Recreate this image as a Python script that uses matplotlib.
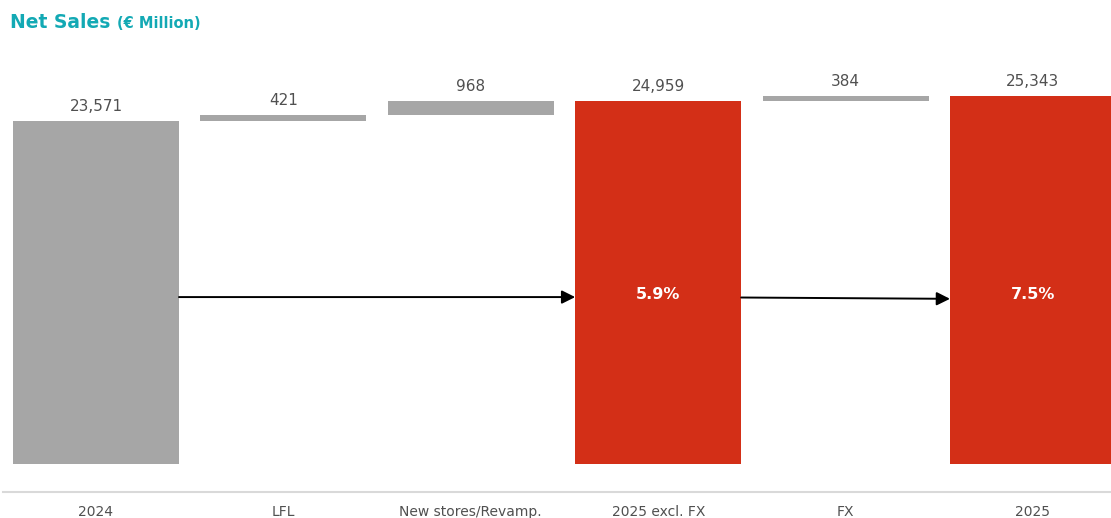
import matplotlib
matplotlib.use("Agg")
import matplotlib.pyplot as plt
import numpy as np

categories = ["2024", "LFL", "New stores/Revamp.", "2025 excl. FX", "FX", "2025"]
values = [23571, 421, 968, 24959, 384, 25343]
kinds = ["total", "delta", "delta", "total", "delta", "total"]
value_labels = ["23,571", "421", "968", "24,959", "384", "25,343"]
growth_labels = ["5.9%", "7.5%"]

GRAY = "#A6A6A6"
RED = "#D32F17"
TEAL = "#13A9B4"
TXT = "#505050"

plt.rcParams['font.family'] = ['DejaVu Sans']

fig = plt.figure(figsize=(11.11, 5.18), dpi=100)
W, H = 1111, 518
ax = fig.add_axes([3 / W, (H - 492) / H, (1111 - 3) / W, (492 - 60) / H])

x = np.arange(len(categories))
bottoms = []
running = 0
for v, k in zip(values, kinds):
    if k == "total":
        bottoms.append(0)
        running = v
    else:
        bottoms.append(running)
        running += v
colors = [RED if (k == "total" and i > 0) else GRAY for i, k in enumerate(kinds)]

bw = 0.886
ax.bar(x, values, bottom=bottoms, width=bw, color=colors, linewidth=0)

for xi, b, v, lab in zip(x, bottoms, values, value_labels):
    ax.text(xi, b + v + 480, lab, ha="center", va="bottom", fontsize=11, color=TXT)

# arrows
arrow_y = 11480
ax.annotate("", xy=(3 - bw / 2, arrow_y), xytext=(0 + bw / 2, arrow_y),
            arrowprops=dict(arrowstyle="-|>", color="black", lw=1.4, mutation_scale=20,
                            shrinkA=0, shrinkB=0))
ax.annotate("", xy=(5 - bw / 2, arrow_y - 120), xytext=(3 + bw / 2, arrow_y - 30),
            arrowprops=dict(arrowstyle="-|>", color="black", lw=1.4, mutation_scale=20,
                            shrinkA=0, shrinkB=0))
for xi, g in zip([3, 5], growth_labels):
    ax.text(xi, 11690, g, ha="center", va="center", fontsize=11.5, fontweight="bold", color="white")

ax.set_xlim((3 - 96) / 187.4, (1111 - 96) / 187.4)
ax.set_ylim(-1926, 27785)
ax.set_xticks(x)
ax.set_xticklabels(categories, fontsize=10, color=TXT, va="baseline")
ax.tick_params(axis="x", length=0, pad=17)
ax.set_yticks([])
for s in ["top", "right", "left"]:
    ax.spines[s].set_visible(False)
ax.spines["bottom"].set_color("#D9D9D9")
ax.spines["bottom"].set_linewidth(1.5)

fig.text(10 / W, 1 - 22 / H, "Net Sales", fontsize=13.5, fontweight="bold", color=TEAL,
         ha="left", va="center")
fig.text(117 / W, 1 - 23 / H, "(€ Million)", fontsize=10.5, fontweight="bold", color=TEAL,
         ha="left", va="center")

fig.savefig("out.png", dpi=100)
